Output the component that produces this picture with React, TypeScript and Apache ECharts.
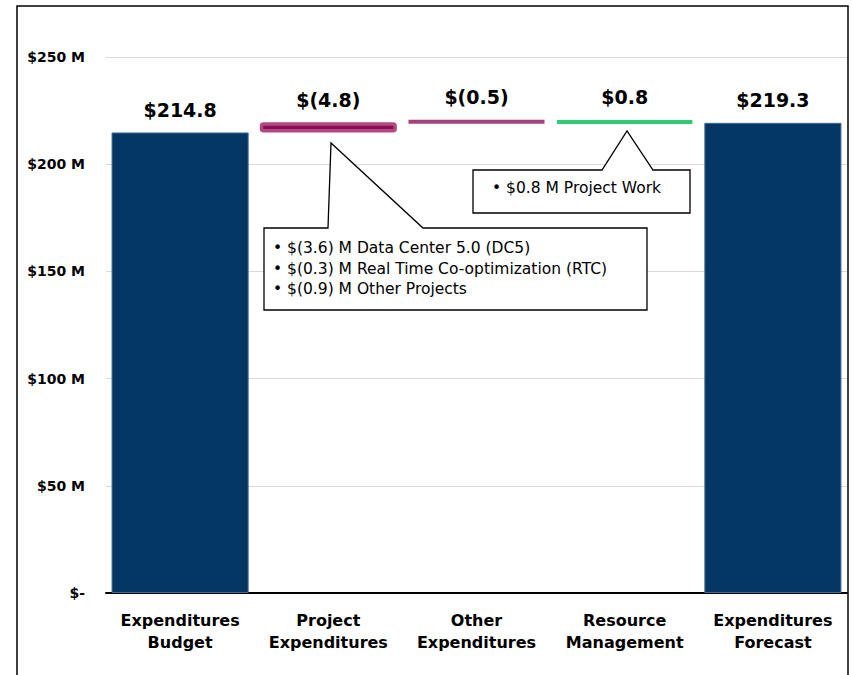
import React, { useEffect, useRef } from "react";
import * as echarts from "echarts";

const categories = [
  "Expenditures\nBudget",
  "Project\nExpenditures",
  "Other\nExpenditures",
  "Resource\nManagement",
  "Expenditures\nForecast",
];
const startValue = 214.8;
// change in forecast expenditures contributed by each step ($M)
const changes = [4.8, 0.5, -0.8];
const endValue = 219.3;
const valueLabels = ["$214.8", "$(4.8)", "$(0.5)", "$0.8", "$219.3"];
const yTicks = [0, 50, 100, 150, 200, 250];

const calloutProject = [
  "• $(3.6) M Data Center 5.0 (DC5)",
  "• $(0.3) M Real Time Co-optimization (RTC)",
  "• $(0.9) M Other Projects",
];
const calloutResource = ["• $0.8 M Project Work"];

const NAVY = "#053764";
const itemStyles = [
  { color: NAVY, borderColor: "#42698f", borderWidth: 1 },
  { color: "#8a0c55", borderColor: "#b24a82", borderWidth: 3.5, borderRadius: 2 },
  { color: "#a6407a", borderColor: "#a6407a", borderWidth: 4, borderRadius: 2 },
  { color: "#2fcc74", borderColor: "#2fcc74", borderWidth: 4, borderRadius: 2 },
  { color: NAVY, borderColor: "#42698f", borderWidth: 1 },
];

const FONT = "DejaVu Sans";

export default function App() {
  const ref = useRef<HTMLDivElement>(null);
  useEffect(() => {
    if (!ref.current) return;
    const chart = echarts.init(ref.current, null, { renderer: "svg" });

    // waterfall bases / heights
    const base: number[] = [0];
    const height: number[] = [startValue];
    let running = startValue;
    changes.forEach((c) => {
      const next = running + c;
      base.push(Math.min(running, next));
      height.push(Math.abs(c));
      running = next;
    });
    base.push(0);
    height.push(endValue);

    const textStyle = (t: string, x: number, y: number) => ({
      type: "text",
      z: 101,
      style: {
        text: t,
        x,
        y,
        fill: "#000",
        font: `15.5px "${FONT}"`,
        textVerticalAlign: "middle",
      },
    });

    chart.setOption({
      animation: false,
      grid: { left: 106, right: 5, top: 57, bottom: 82, containLabel: false },
      xAxis: {
        type: "category",
        data: categories,
        axisTick: { show: false },
        axisLine: { lineStyle: { color: "#000", width: 2 } },
        axisLabel: {
          interval: 0,
          margin: 16,
          lineHeight: 22,
          color: "#000",
          fontFamily: FONT,
          fontWeight: "bold",
          fontSize: 16,
        },
      },
      yAxis: {
        type: "value",
        min: yTicks[0],
        max: yTicks[yTicks.length - 1],
        interval: 50,
        axisLine: { show: false },
        axisTick: { show: false },
        splitLine: { lineStyle: { color: "#d9d9d9", width: 1 } },
        axisLabel: {
          margin: 21,
          color: "#000",
          fontFamily: FONT,
          fontWeight: "bold",
          fontSize: 14,
          formatter: (v: number) => (v === 0 ? "$-" : `$${v} M`),
        },
      },
      series: [
        {
          type: "bar",
          stack: "wf",
          data: base,
          itemStyle: { color: "transparent" },
          emphasis: { disabled: true },
          barCategoryGap: "7.5%",
        },
        {
          type: "bar",
          stack: "wf",
          barCategoryGap: "7.5%",
          data: height.map((h, i) => ({ value: h, itemStyle: itemStyles[i] })),
          label: {
            show: true,
            position: "top",
            distance: 13,
            color: "#000",
            fontFamily: FONT,
            fontWeight: "bold",
            fontSize: 19,
            formatter: (p: any) => valueLabels[p.dataIndex],
          },
        },
      ],
      graphic: [
        {
          type: "rect",
          z: 100,
          shape: { x: 17, y: 6, width: 831, height: 700 },
          style: { fill: "none", stroke: "#000", lineWidth: 1.5 },
        },
        {
          type: "polygon",
          z: 100,
          shape: {
            points: [
              [264, 228],
              [328, 228],
              [331, 143],
              [423, 228],
              [647, 228],
              [647, 310],
              [264, 310],
            ],
          },
          style: { fill: "#fff", stroke: "#000", lineWidth: 1.3 },
        },
        ...calloutProject.map((t, i) => textStyle(t, 273, 248 + i * 20.5)),
        {
          type: "polygon",
          z: 100,
          shape: {
            points: [
              [473, 170],
              [602, 170],
              [627, 131],
              [653, 170],
              [690, 170],
              [690, 213],
              [473, 213],
            ],
          },
          style: { fill: "#fff", stroke: "#000", lineWidth: 1.3 },
        },
        ...calloutResource.map((t, i) => textStyle(t, 492, 188 + i * 20)),
      ],
    });
    return () => chart.dispose();
  }, []);
  return (
    <div
      ref={ref}
      style={{ position: "absolute", left: 0, top: 0, width: 852, height: 675, background: "#fff" }}
    />
  );
}
